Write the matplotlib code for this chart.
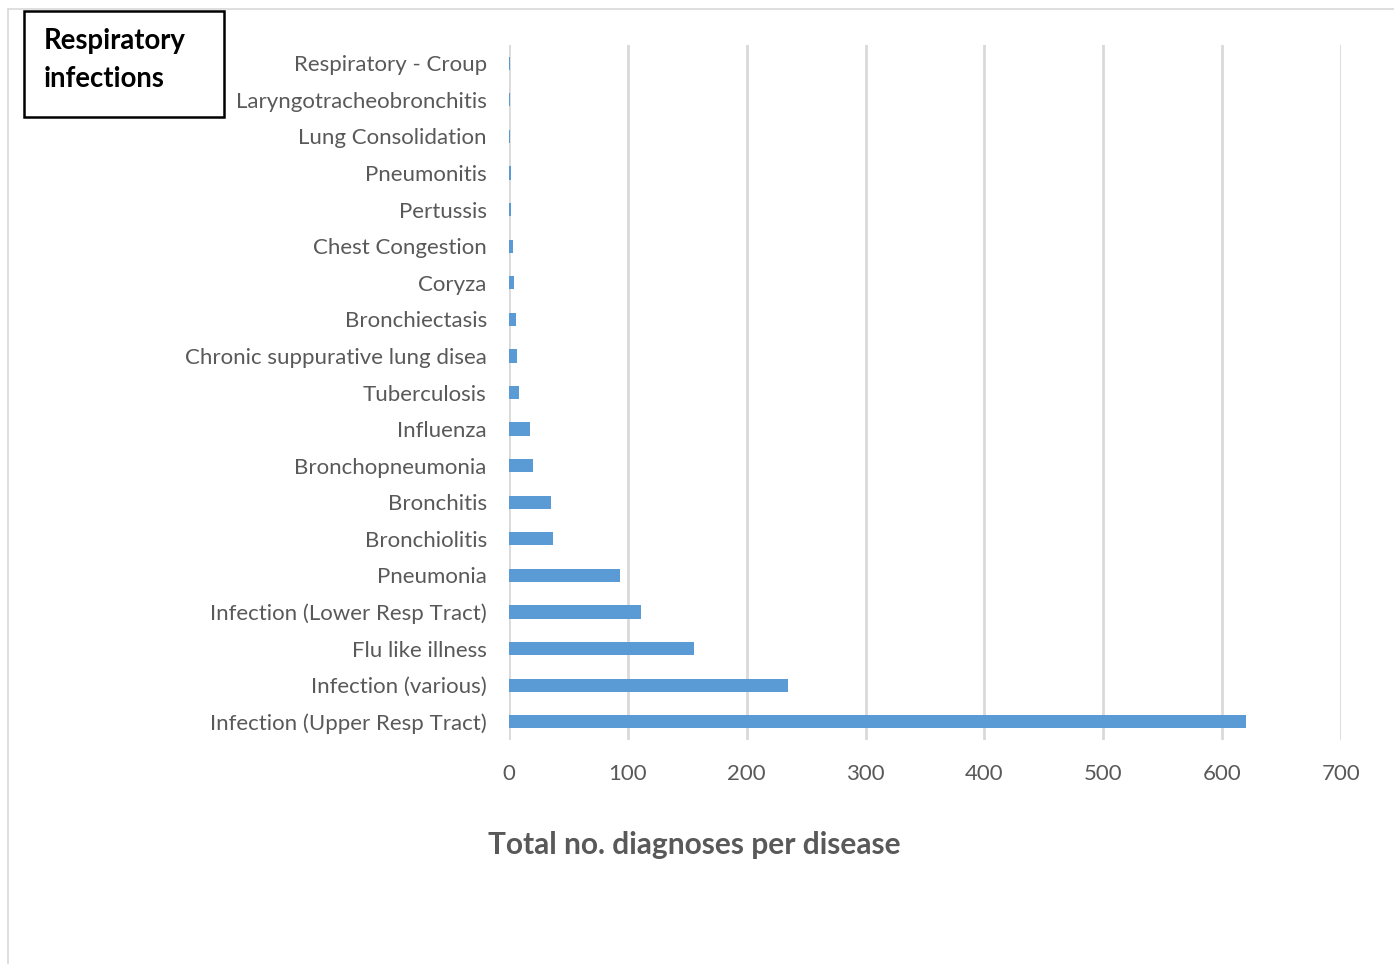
import matplotlib
matplotlib.use("Agg")
import matplotlib.pyplot as plt
from matplotlib.lines import Line2D
from matplotlib.patches import Rectangle

# Diagnoses per respiratory disease (listed bottom to top)
diseases = [
    "Infection (Upper Resp Tract)",
    "Infection (various)",
    "Flu like illness",
    "Infection (Lower Resp Tract)",
    "Pneumonia",
    "Bronchiolitis",
    "Bronchitis",
    "Bronchopneumonia",
    "Influenza",
    "Tuberculosis",
    "Chronic suppurative lung disea",
    "Bronchiectasis",
    "Coryza",
    "Chest Congestion",
    "Pertussis",
    "Pneumonitis",
    "Lung Consolidation",
    "Laryngotracheobronchitis",
    "Respiratory - Croup",
]
counts = [620, 235, 156, 111, 93, 37, 35, 20, 18, 8, 7, 6, 4, 3, 2, 2, 1, 1, 1]
x_ticks = [0, 100, 200, 300, 400, 500, 600, 700]

plt.rcParams["font.family"] = ["Lato", "DejaVu Sans"]
W, H = 1394, 964
fig = plt.figure(figsize=(W / 100, H / 100), dpi=100)

ax = fig.add_axes([509 / W, 1 - 740 / H, (1341 - 509) / W, (740 - 45) / H])
ypos = list(range(len(diseases)))
ax.barh(ypos, counts, height=0.36, color="#5b9bd5", zorder=3)
ax.set_ylim(-0.5, len(diseases) - 0.5)
ax.set_xlim(0, 700)
ax.set_xticks(x_ticks)
ax.set_xticklabels([str(t) for t in x_ticks])
ax.set_yticks(ypos)
ax.set_yticklabels(diseases)
ax.tick_params(axis="both", length=0, labelsize=16, labelcolor="#595959")
ax.tick_params(axis="x", pad=17)
ax.tick_params(axis="y", pad=16)
ax.grid(axis="x", color="#d9d9d9", linewidth=2, zorder=0)
for s in ax.spines.values():
    s.set_visible(False)

fig.text(694 / W, 1 - 845 / H, "Total no. diagnoses per disease", fontsize=21.5,
         fontweight="bold", color="#595959", ha="center", va="center")

# Outer chart frame
fig.add_artist(Line2D([8 / W, 1], [1 - 9 / H, 1 - 9 / H], color="#d9d9d9", linewidth=1.2))
fig.add_artist(Line2D([8 / W, 8 / W], [0, 1 - 9 / H], color="#d9d9d9", linewidth=1.2))

# Title box
fig.add_artist(Rectangle((24 / W, 1 - 117 / H), 200 / W, 106 / H, fill=False,
                         edgecolor="black", linewidth=1.8, transform=fig.transFigure))
fig.text(44 / W, 1 - 60 / H, "Respiratory\ninfections", fontsize=19.8, fontweight="bold",
         color="black", ha="left", va="center", linespacing=1.6)

fig.savefig("out.png", dpi=100, facecolor="white")
